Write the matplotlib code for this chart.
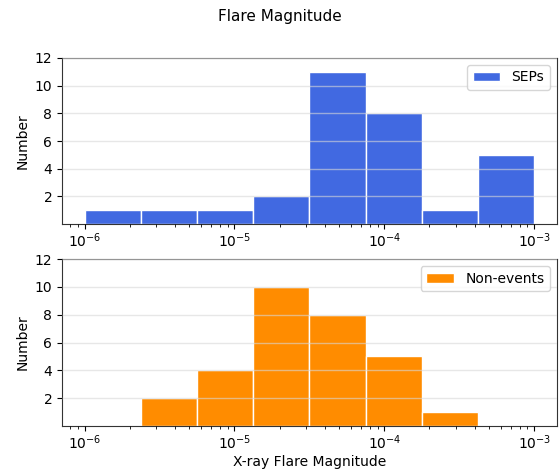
import numpy as np
import matplotlib
matplotlib.use("Agg")
import matplotlib.pyplot as plt

bin_edges = np.logspace(-6, -3, 9)
sep_counts = [1, 1, 1, 2, 11, 8, 1, 5]
non_counts = [0, 2, 4, 10, 8, 5, 1, 0]
yticks = [2, 4, 6, 8, 10, 12]

fig = plt.figure(figsize=(5.59, 4.71), dpi=100)
ax1 = fig.add_axes([0.111, 0.524, 0.885, 0.353])
ax2 = fig.add_axes([0.111, 0.0955, 0.885, 0.3545])

widths = np.diff(bin_edges)
for ax, counts, color, label in [(ax1, sep_counts, "royalblue", "SEPs"),
                                 (ax2, non_counts, "darkorange", "Non-events")]:
    ax.bar(bin_edges[:-1], counts, width=widths, align="edge", color=color,
           edgecolor="white", linewidth=1, label=label, zorder=1)
    ax.set_xscale("log")
    ax.set_ylim(0, 12)
    ax.set_yticks(yticks)
    ax.grid(axis="y", color="#d8d8d8", alpha=0.6, linewidth=1, zorder=3)
    ax.set_axisbelow(False)
    ax.set_ylabel("Number")
    ax.legend(loc="upper right")
    ax.tick_params(axis="x", which="both", pad=2)
    for s in ax.spines.values():
        s.set_color("#333333")

ax2.set_xlabel("X-ray Flare Magnitude", labelpad=2)
fig.suptitle("Flare Magnitude", y=0.98, fontsize=11)
fig.savefig("out.png", dpi=100)
